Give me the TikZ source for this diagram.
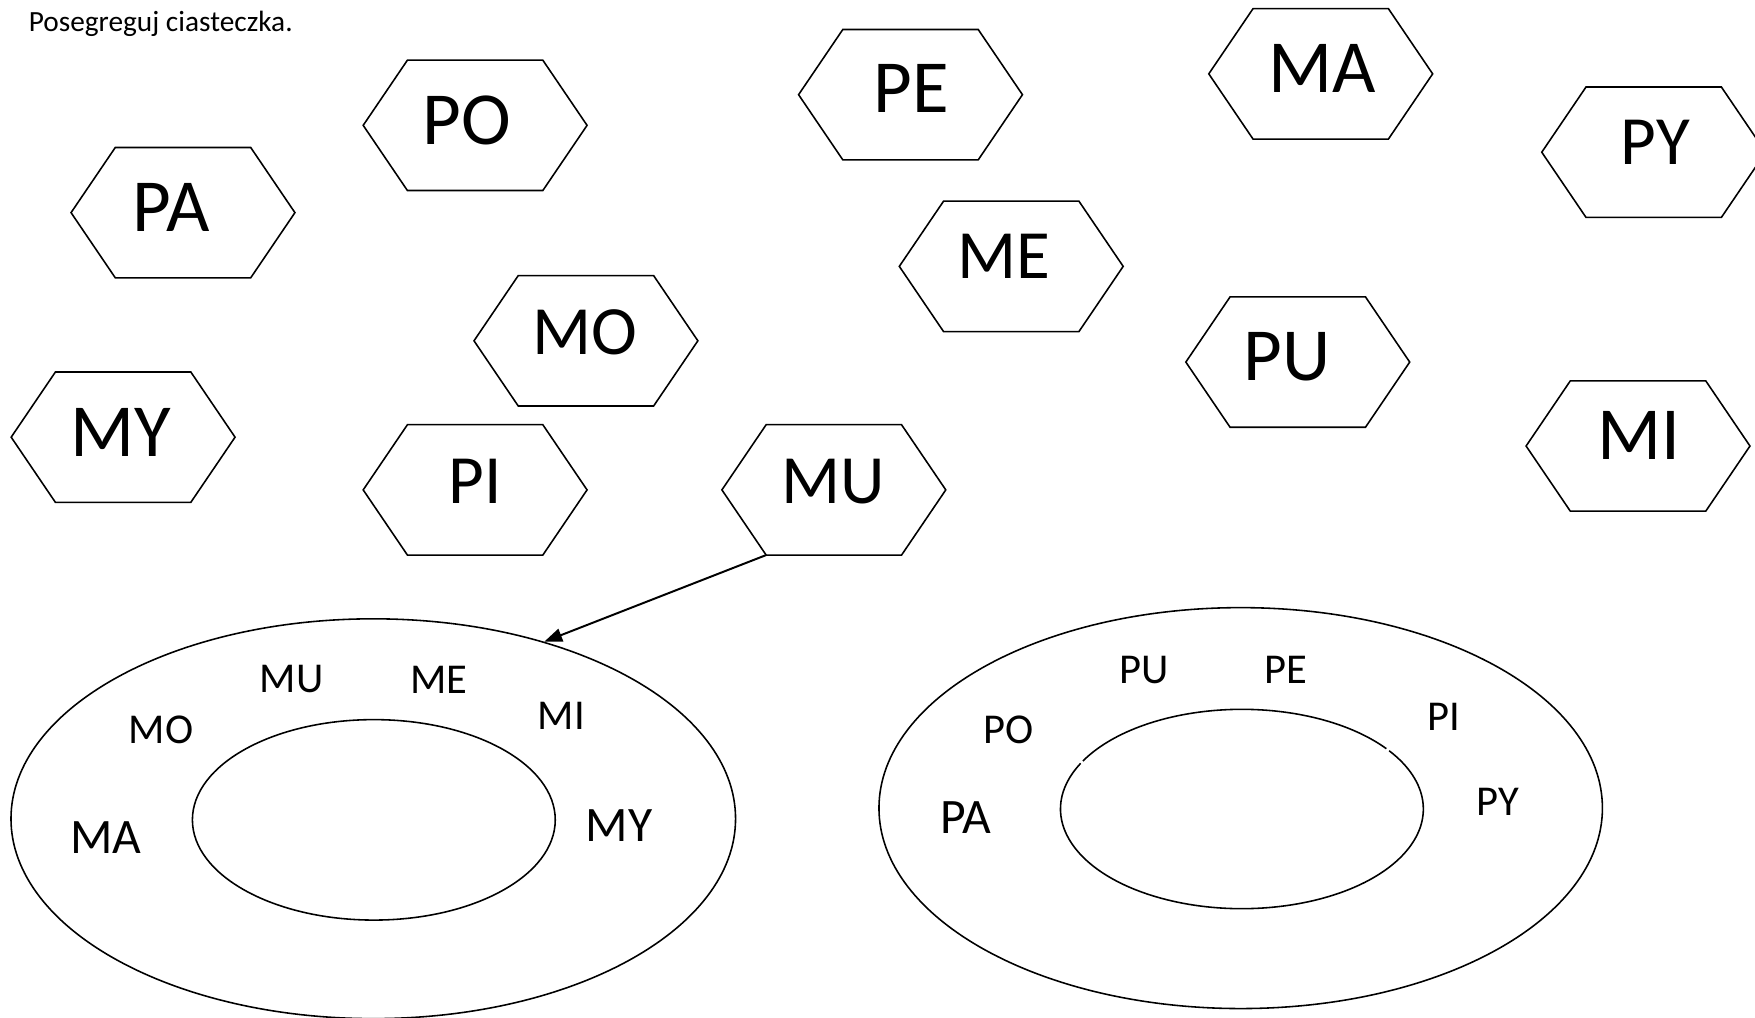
\documentclass[tikz,border=0pt]{standalone}
\usepackage{fontspec}
\setmainfont{Carlito}
\usetikzlibrary{shapes.geometric,arrows.meta}
\tikzset{
  hexbox/.style={rectangle, inner sep=0pt, minimum width=1.195cm, minimum height=1.15cm},
  hexline/.style={line width=0.4pt, line join=miter},
  hbig/.style={inner sep=0pt, font=\fontsize{19.04}{22}\selectfont},
  hsmall/.style={inner sep=0pt, font=\fontsize{17.56}{20}\selectfont},
  ebig/.style={inner sep=0pt, font=\fontsize{12.6}{15}\selectfont},
  esmall/.style={inner sep=0pt, font=\fontsize{10.8}{13}\selectfont},
  ringline/.style={line width=0.4pt},
  ring/.style={draw, ellipse, inner sep=0pt, ringline},
}
\newcommand\ciastko[7]{%
  \node[hexbox] (h#1) at (#2,#3) {};
  \draw[hexline] (h#1.north west) -- (h#1.north east) -- ([xshift=0.395cm]h#1.east)
     -- (h#1.south east) -- (h#1.south west) -- ([xshift=-0.395cm]h#1.west) -- cycle;
  \node[#6] (t#1) at (#4,#5) {#7};
}
\begin{document}
\begin{tikzpicture}[x=0.01cm, y=-0.01cm]
\useasboundingbox (0,0) rectangle (1568,909.5);
\clip (0,0) rectangle (1568,909.5);

\node[anchor=base west, inner sep=0pt, font=\fontsize{7.45}{9}\selectfont] (title) at (25,28.5) {Posegreguj ciasteczka.};

\ciastko{pa}{163.5}{190}{153}{185}{hbig}{PA}
\ciastko{po}{424.5}{112}{417}{107.2}{hbig}{PO}
\ciastko{pe}{813.5}{84.6}{814.4}{79.2}{hbig}{PE}
\ciastko{ma}{1180}{66}{1181}{61.3}{hbig}{MA}
\ciastko{py}{1477.5}{136}{1479}{127}{hsmall}{PY}
\ciastko{me}{903.5}{238}{897}{229.3}{hsmall}{ME}
\ciastko{mo}{523.5}{304.5}{522.5}{296.6}{hsmall}{MO}
\ciastko{pu}{1159.5}{323.5}{1149.6}{318.7}{hbig}{PU}
\ciastko{my}{110}{390.6}{108.3}{386}{hbig}{MY}
\ciastko{pi}{424.5}{437.7}{424.7}{429.6}{hsmall}{PI}
\ciastko{mu}{745}{437.7}{744}{430}{hsmall}{MU}
\ciastko{mi}{1463.5}{398.5}{1464}{389}{hbig}{MI}

% left set
\node[ring, minimum width=6.47cm, minimum height=3.57cm] (lout) at (333.5,731.5) {};
\node[ring, minimum width=3.24cm, minimum height=1.79cm] (lin) at (334,732.5) {};
% right set
\node[ring, minimum width=6.46cm, minimum height=3.58cm] (rout) at (1108.5,722) {};
\node[ellipse, inner sep=0pt, minimum width=3.24cm, minimum height=1.78cm] (rin) at (1109.6,722.8) {};
\draw[ringline] ([shift={(152.75:1.62cm and 0.89cm)}]rin.center)
  arc[start angle=152.75, end angle=395.75, x radius=1.62cm, y radius=0.89cm];
\draw[ringline] ([shift={(37.25:1.62cm and 0.89cm)}]rin.center)
  arc[start angle=37.25, end angle=151.25, x radius=1.62cm, y radius=0.89cm];

\node[esmall] (lmu) at (260.6,607) {MU};
\node[esmall] (lme) at (392,607) {ME};
\node[esmall] (lmo) at (144,652.5) {MO};
\node[esmall] (lmi) at (501.5,640) {MI};
\node[ebig] (lma) at (94.6,748) {MA};
\node[ebig] (lmy) at (553,738) {MY};

\node[esmall] (rpu) at (1022,598.6) {PU};
\node[esmall] (rpe) at (1149,598.6) {PE};
\node[esmall] (rpo) at (900.7,652) {PO};
\node[esmall] (rpi) at (1290,640.6) {PI};
\node[ebig] (rpa) at (862.6,730.5) {PA};
\node[esmall] (rpy) at (1338,716) {PY};

\draw[line width=0.5pt, -{Triangle[length=0.16cm, width=0.12cm]}] (hmu.south west) -- (lout.46);
\end{tikzpicture}
\end{document}
